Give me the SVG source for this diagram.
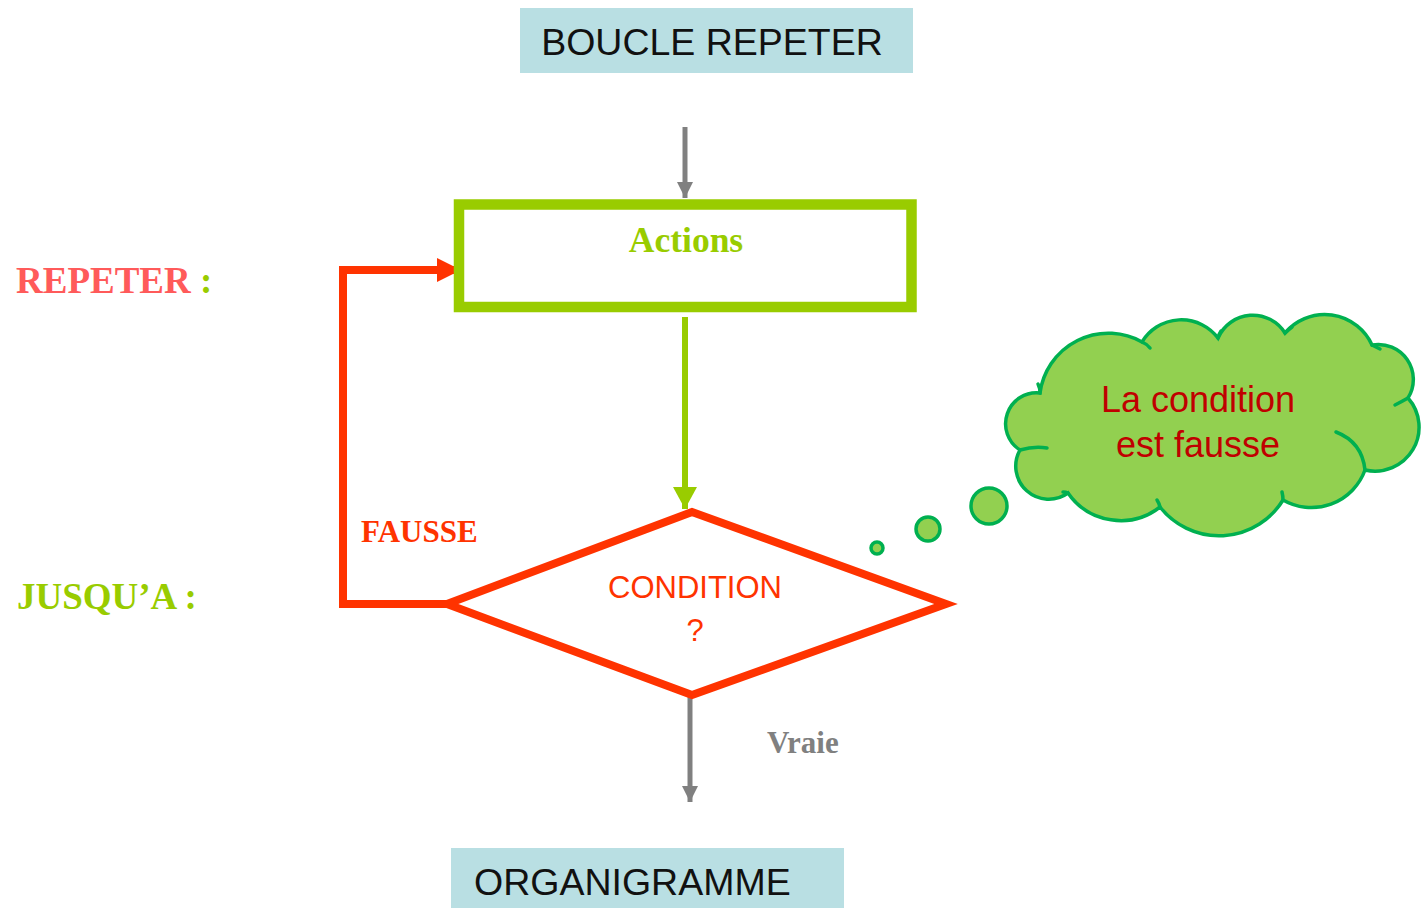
<svg xmlns="http://www.w3.org/2000/svg" width="1422" height="908" viewBox="0 0 1422 908">
  <style>
    .banner { fill: #b9dfe3; }
    .banner-text { font-family: "Liberation Sans", Arial, sans-serif; font-size: 37.5px; fill: #111111; }
    .serif-bold { font-family: "Liberation Serif", "Times New Roman", serif; font-weight: bold; }
    .sans { font-family: "Liberation Sans", Arial, sans-serif; }
    .gray-line { stroke: #808080; stroke-width: 5; fill: none; }
    .green-line { stroke: #99cc00; stroke-width: 6; fill: none; }
    .red-line { stroke: #ff3300; stroke-width: 8; fill: none; stroke-linejoin: miter; }
    .cloud { fill: #92d050; stroke: #00b050; stroke-width: 3.5; }
    .cloud-tick { fill: none; stroke: #00b050; stroke-width: 3.5; stroke-linecap: round; }
  </style>
  <defs>
    <marker id="head-gray" markerUnits="userSpaceOnUse" markerWidth="18" markerHeight="18" refX="16" refY="8" orient="auto">
      <path d="M0,0 L16,8 L0,16 Z" fill="#808080"/>
    </marker>
    <marker id="head-green" markerUnits="userSpaceOnUse" markerWidth="26" markerHeight="26" refX="22" refY="12" orient="auto">
      <path d="M0,0 L22,12 L0,24 Z" fill="#99cc00"/>
    </marker>
    <marker id="head-red" markerUnits="userSpaceOnUse" markerWidth="26" markerHeight="26" refX="24" refY="12" orient="auto">
      <path d="M0,0 L24,12 L0,24 Z" fill="#ff3300"/>
    </marker>
  </defs>

  <rect width="1422" height="908" fill="#ffffff"/>

  <!-- Title banner -->
  <g id="node-title">
    <rect class="banner" x="520" y="8" width="393" height="65"/>
    <text class="banner-text" x="712" y="55" text-anchor="middle">BOUCLE REPETER</text>
  </g>

  <!-- Side labels -->
  <g id="labels">
    <text class="serif-bold" x="16" y="293" font-size="37" fill="#ff5a5a">REPETER <tspan fill="#99cc00">:</tspan></text>
    <text class="serif-bold" x="17" y="609" font-size="37" fill="#99cc00">JUSQU’A :</text>
    <text class="serif-bold" x="361" y="542" font-size="31" fill="#ff3300">FAUSSE</text>
    <text class="serif-bold" x="767" y="753" font-size="31" fill="#808080">Vraie</text>
  </g>

  <!-- Connectors -->
  <g id="connectors">
    <path class="gray-line" d="M685,127 V198" marker-end="url(#head-gray)"/>
    <path class="green-line" d="M685,317 V509" marker-end="url(#head-green)"/>
    <path class="red-line" d="M447,604 H343 V270 H461" marker-end="url(#head-red)"/>
    <path class="gray-line" d="M690,697 V802" marker-end="url(#head-gray)"/>
  </g>

  <!-- Action block -->
  <g id="node-actions">
    <rect x="459" y="204.5" width="452.5" height="102.5" fill="#ffffff" stroke="#99cc00" stroke-width="10.5"/>
    <text class="serif-bold" x="686" y="252" font-size="35.5" fill="#99cc00" text-anchor="middle">Actions</text>
  </g>

  <!-- Decision -->
  <g id="node-condition">
    <polygon points="692,512 946,604 692,695 447,604" fill="#ffffff" stroke="#ff3300" stroke-width="8" stroke-linejoin="miter"/>
    <text class="sans" x="695" y="598" font-size="31" fill="#ff3300" text-anchor="middle">CONDITION</text>
    <text class="sans" x="695" y="641" font-size="31" fill="#ff3300" text-anchor="middle">?</text>
  </g>

  <!-- Thought bubble -->
  <g id="node-cloud">
    <circle class="cloud" cx="877" cy="548" r="6" stroke-width="3.5"/>
    <circle class="cloud" cx="928" cy="529" r="12"/>
    <circle class="cloud" cx="989" cy="506" r="18"/>
    <path class="cloud" d="M1020,450
      A31,31 0 0 1 1040,393
      A69,69 0 0 1 1142,342
      A46,46 0 0 1 1218,338
      A38,38 0 0 1 1285,333
      A52,52 0 0 1 1372,345
      A35,35 0 0 1 1408,398
      A44,44 0 0 1 1365,470
      A57,57 0 0 1 1283,500
      A75,75 0 0 1 1160,507
      A64,64 0 0 1 1068,493
      A33,33 0 0 1 1020,450 Z"/>
    <path class="cloud-tick" d="M1020,450 Q1034,446 1047,448"/>
    <path class="cloud-tick" d="M1040,393 Q1040,388 1038,384"/>
    <path class="cloud-tick" d="M1142,342 Q1147,344 1150,348"/>
    <path class="cloud-tick" d="M1218,338 Q1219,334 1221,331"/>
    <path class="cloud-tick" d="M1285,333 Q1288,330 1292,327"/>
    <path class="cloud-tick" d="M1372,345 Q1376,347 1380,349"/>
    <path class="cloud-tick" d="M1408,398 Q1401,402 1395,405"/>
    <path class="cloud-tick" d="M1336,432 Q1362,442 1365,470"/>
    <path class="cloud-tick" d="M1283,500 Q1283,496 1282,492"/>
    <path class="cloud-tick" d="M1160,507 Q1159,503 1157,500"/>
    <path class="cloud-tick" d="M1068,493 Q1066,492 1063,492"/>
    <text class="sans" x="1198" y="412" font-size="36" fill="#c00000" text-anchor="middle">La condition</text>
    <text class="sans" x="1198" y="457" font-size="36" fill="#c00000" text-anchor="middle">est fausse</text>
  </g>

  <!-- End banner -->
  <g id="node-end">
    <rect class="banner" x="451" y="848" width="393" height="62"/>
    <text class="banner-text" x="474" y="895">ORGANIGRAMME</text>
  </g>
</svg>
